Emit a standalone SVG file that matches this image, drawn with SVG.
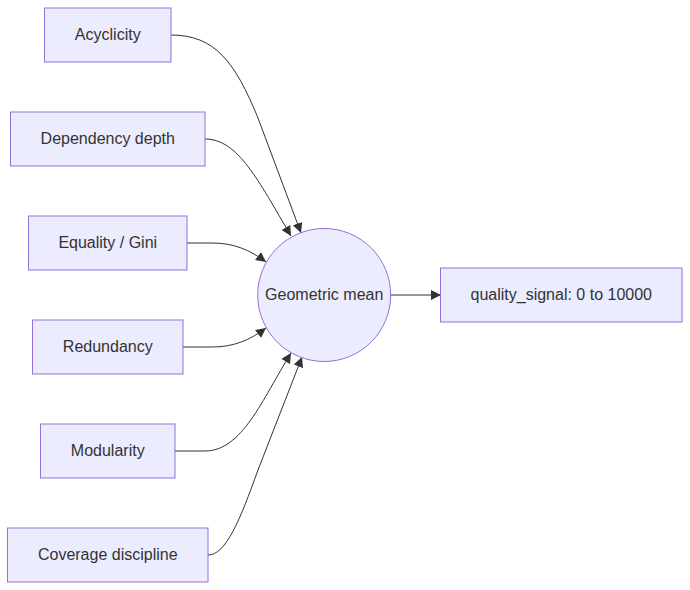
<svg xmlns="http://www.w3.org/2000/svg" width="690" height="590" viewBox="0 0 690 590">
<style>
.node rect, .node circle { fill: #ECECFF; stroke: #9370DB; stroke-width: 1; }
.node text { font-family: "Liberation Sans", Arial, sans-serif; font-size: 16px; fill: #333; text-anchor: middle; dominant-baseline: central; }
.edges path { fill: none; stroke: #333; stroke-width: 1; marker-end: url(#arrow); }
</style>
<defs>
<marker id="arrow" markerUnits="userSpaceOnUse" viewBox="0 0 10 10" refX="10" refY="5" markerWidth="10" markerHeight="10" orient="auto">
<path d="M0,0 L10,5 L0,10 z" fill="#333"/>
</marker>
</defs>
<rect width="690" height="590" fill="#ffffff"/>
<g class="edges">
<path d="M171,35 C 215,35 235,62 258,118 L 301,233"/>
<path d="M205,139 C 238,139 258,180 291,236"/>
<path d="M187,243 L 212,243 C 234,243 250,250 266,262"/>
<path d="M183,347 L 212,347 C 234,347 250,340 266,328"/>
<path d="M175,451 L 205,451 C 242,451 262,400 291,353"/>
<path d="M208,555 C 226,555 240,520 258,470 L 302,357"/>
<path d="M391,295 L 441,295"/>
</g>
<g id="acyclicity" class="node"><rect x="44.5" y="8" width="126.5" height="54"/><text x="107.75" y="34">Acyclicity</text></g>
<g id="dependency-depth" class="node"><rect x="10.5" y="112" width="194.5" height="54"/><text x="107.75" y="138">Dependency depth</text></g>
<g id="equality-gini" class="node"><rect x="28.5" y="216" width="158.5" height="54"/><text x="107.75" y="242">Equality / Gini</text></g>
<g id="redundancy" class="node"><rect x="32.5" y="320" width="150.5" height="54"/><text x="107.75" y="346">Redundancy</text></g>
<g id="modularity" class="node"><rect x="40.5" y="424" width="134.5" height="54"/><text x="107.75" y="450">Modularity</text></g>
<g id="coverage-discipline" class="node"><rect x="7.5" y="528" width="200.5" height="54"/><text x="107.75" y="554">Coverage discipline</text></g>
<g id="geometric-mean" class="node"><circle cx="324.2" cy="295" r="66.5"/><text x="324.2" y="294">Geometric mean</text></g>
<g id="quality-signal" class="node"><rect x="440.5" y="268" width="241.5" height="54"/><text x="561.25" y="294">quality_signal: 0 to 10000</text></g>
</svg>
